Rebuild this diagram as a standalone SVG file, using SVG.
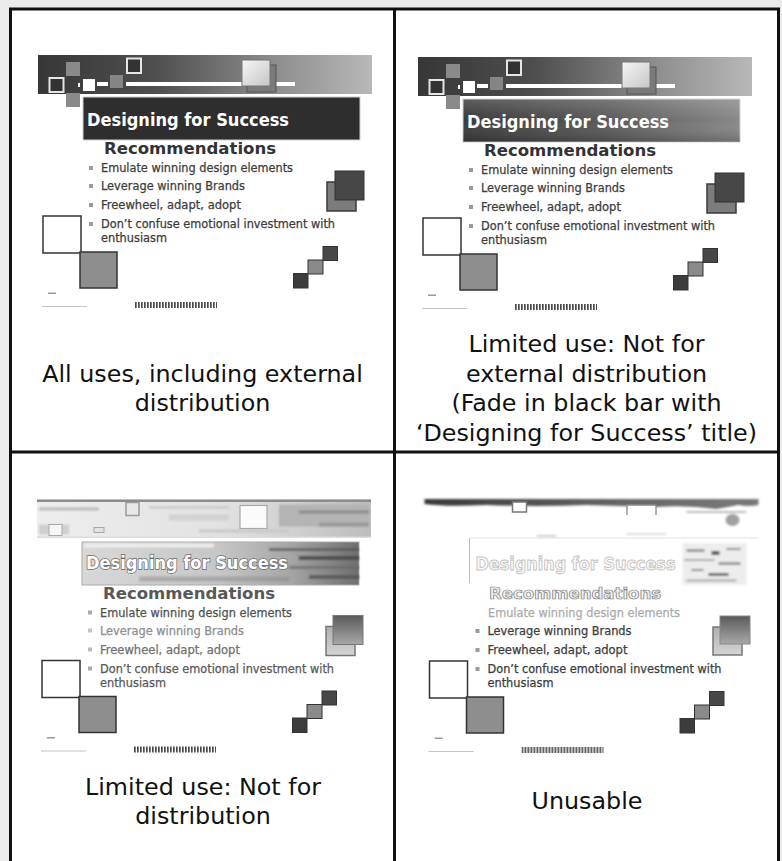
<svg xmlns="http://www.w3.org/2000/svg" xmlns:xlink="http://www.w3.org/1999/xlink" width="782" height="861" viewBox="0 0 782 861">
<style>
.cap{font-family:"DejaVu Sans",Verdana,sans-serif;font-size:23.8px;fill:#111;text-anchor:middle}
.ttl{font-family:"DejaVu Sans Condensed","DejaVu Sans",sans-serif;font-weight:bold;font-size:18px;fill:#fff}
.rec{font-family:"DejaVu Sans Condensed","DejaVu Sans",sans-serif;font-weight:bold;font-size:16px;fill:#333}
.bul{font-family:"DejaVu Sans Condensed","DejaVu Sans",sans-serif;font-size:12.5px;fill:#3c3c3c;stroke:#3c3c3c;stroke-width:.25}
.dot{fill:#9a9a9a}
.edge{stroke:#333;stroke-width:1.5}
.grid{fill:none;stroke:#111;stroke-width:3}
.soft{filter:url(#blur)}
</style>
<defs>
  <filter id="blur" x="-10%" y="-50%" width="120%" height="200%"><feGaussianBlur stdDeviation="1"/></filter>
  <linearGradient id="gBanner" x1="0" y1="0" x2="1" y2="0">
    <stop offset="0" stop-color="#373737"/><stop offset=".35" stop-color="#4e4e4e"/>
    <stop offset=".7" stop-color="#8c8c8c"/><stop offset="1" stop-color="#b8b8b8"/>
  </linearGradient>
  <linearGradient id="gPale" x1="0" y1="0" x2="1" y2="1">
    <stop offset="0" stop-color="#f6f6f6"/><stop offset="1" stop-color="#c6c6c6"/>
  </linearGradient>
  <linearGradient id="gFade" x1="0" y1="0" x2="1" y2="0">
    <stop offset="0" stop-color="#3a3a3a"/><stop offset=".5" stop-color="#585858"/><stop offset="1" stop-color="#888"/>
  </linearGradient>
  <linearGradient id="gFadeV" x1="0" y1="0" x2="0" y2="1">
    <stop offset="0" stop-color="#fff" stop-opacity=".18"/><stop offset=".5" stop-color="#fff" stop-opacity="0"/>
    <stop offset="1" stop-color="#000" stop-opacity=".2"/>
  </linearGradient>
  <linearGradient id="gWash" x1="0" y1="0" x2="1" y2="0">
    <stop offset="0" stop-color="#eeeeee"/><stop offset=".55" stop-color="#e2e2e2"/><stop offset="1" stop-color="#bdbdbd"/>
  </linearGradient>
  <linearGradient id="gWashTitle" x1="0" y1="0" x2="1" y2="0">
    <stop offset="0" stop-color="#d8d8d8"/><stop offset=".5" stop-color="#c6c6c6"/>
    <stop offset=".75" stop-color="#a6a6a6"/><stop offset="1" stop-color="#6e6e6e"/>
  </linearGradient>
  <linearGradient id="gTop" x1="0" y1="0" x2="1" y2="0">
    <stop offset="0" stop-color="#3a3a3a"/><stop offset=".6" stop-color="#666"/><stop offset="1" stop-color="#7a7a7a"/>
  </linearGradient>
  <linearGradient id="gDarkV" x1="0" y1="0" x2="0" y2="1">
    <stop offset="0" stop-color="#5a5a5a"/><stop offset="1" stop-color="#a8a8a8"/>
  </linearGradient>
  <linearGradient id="gLightV" x1="0" y1="0" x2="0" y2="1">
    <stop offset="0" stop-color="#b0b0b0"/><stop offset="1" stop-color="#d4d4d4"/>
  </linearGradient>
  <pattern id="pBar" width="3" height="6" patternUnits="userSpaceOnUse">
    <rect width="1.7" height="6" fill="#4a4a4a"/>
  </pattern>

  <!-- banner strip across the top of the slide -->
  <g id="banner">
    <rect x="38" y="55" width="334" height="39" fill="url(#gBanner)"/>
    <rect x="66" y="62" width="14" height="14" fill="#8a8a8a"/>
    <rect x="66" y="93" width="14" height="14" fill="#8a8a8a"/>
    <rect x="49.5" y="78" width="14" height="14" fill="#333" stroke="#e6e6e6" stroke-width="2"/>
    <rect x="83" y="79" width="12" height="12" fill="#fff"/>
    <rect x="78" y="83" width="2" height="4" fill="#fff"/>
    <rect x="97" y="82" width="11" height="4" fill="#fff"/>
    <rect x="110" y="75" width="13" height="13" fill="#858585"/>
    <rect x="126" y="82" width="169" height="4" fill="#fff"/>
    <rect x="127" y="58.5" width="14" height="14.5" fill="#333" stroke="#e6e6e6" stroke-width="2"/>
    <rect x="247" y="65" width="29" height="27" fill="#7a7a7a" stroke="#555"/>
    <rect x="242" y="60" width="28" height="26" fill="url(#gPale)" stroke="#777"/>
  </g>

  <!-- bullet list -->
  <g id="list">
    <rect class="dot" x="89" y="166" width="4" height="4"/>
    <rect class="dot" x="89" y="184" width="4" height="4"/>
    <rect class="dot" x="89" y="203" width="4" height="4"/>
    <rect class="dot" x="89" y="222" width="4" height="4"/>
    <text class="bul" x="101" y="172" textLength="192" lengthAdjust="spacingAndGlyphs">Emulate winning design elements</text>
    <text class="bul" x="101" y="190" textLength="144" lengthAdjust="spacingAndGlyphs">Leverage winning Brands</text>
    <text class="bul" x="101" y="209" textLength="140" lengthAdjust="spacingAndGlyphs">Freewheel, adapt, adopt</text>
    <text class="bul" x="101" y="228" textLength="234" lengthAdjust="spacingAndGlyphs">Don’t confuse emotional investment with</text>
    <text class="bul" x="101" y="242" textLength="66" lengthAdjust="spacingAndGlyphs">enthusiasm</text>
  </g>

  <!-- pair of squares on the right -->
  <g id="sideSq">
    <rect x="327" y="182" width="29" height="29" fill="#7c7c7c" stroke="#3a3a3a" stroke-width="1.5"/>
    <rect x="335" y="171" width="29" height="29" fill="#474747" stroke="#333"/>
  </g>

  <!-- lower decorations and footer -->
  <g id="decor">
    <rect x="43" y="216" width="38" height="37" fill="none" class="edge"/>
    <rect x="80" y="252" width="37" height="36" fill="#8e8e8e" class="edge"/>
    <rect x="293.5" y="273.5" width="14.5" height="14.5" fill="#3c3c3c" stroke="#333"/>
    <rect x="308" y="260" width="15" height="14" fill="#8a8a8a" stroke="#333"/>
    <rect x="323" y="246.5" width="14.5" height="14" fill="#474747" stroke="#333"/>
    <rect x="48" y="292.5" width="8" height="1.5" fill="#999"/>
    <rect x="42" y="306" width="45" height="1" fill="#c4c4c4"/>
    <rect x="135" y="302" width="82" height="6" fill="url(#pBar)"/>
  </g>
</defs>

<rect width="782" height="861" fill="#ebebeb"/>
<rect x="10.5" y="9" width="768" height="870" fill="#fff"/>

<!-- table rules -->
<g id="table">
  <rect class="grid" x="10.5" y="9" width="768" height="870"/>
  <line class="grid" x1="394.5" y1="9" x2="394.5" y2="861"/>
  <line class="grid" x1="10.5" y1="452" x2="778.5" y2="452"/>
</g>

<!-- top-left: clean slide -->
<g id="cell-all-uses">
  <use xlink:href="#banner"/>
  <rect x="83" y="97" width="277" height="43" fill="#2e2e2e" stroke="#cfcfcf"/>
  <text class="ttl" x="87" y="126" textLength="202" lengthAdjust="spacingAndGlyphs">Designing for Success</text>
  <text class="rec" x="104" y="154" textLength="172" lengthAdjust="spacingAndGlyphs">Recommendations</text>
  <use xlink:href="#list"/>
  <use xlink:href="#sideSq"/>
  <use xlink:href="#decor"/>
  <text class="cap" x="202.5" y="381.7">All uses, including external</text>
  <text class="cap" x="202.5" y="411.2">distribution</text>
</g>

<!-- top-right: faded title bar -->
<g id="cell-limited-external">
  <g transform="translate(380 2)">
    <use xlink:href="#banner"/>
    <rect x="83" y="97" width="277" height="43" fill="url(#gFade)" stroke="#cfcfcf"/>
    <rect x="83" y="97" width="277" height="43" fill="url(#gFadeV)"/>
    <text class="ttl" x="87" y="126" textLength="202" lengthAdjust="spacingAndGlyphs">Designing for Success</text>
    <text class="rec" x="104" y="154" textLength="172" lengthAdjust="spacingAndGlyphs">Recommendations</text>
    <use xlink:href="#list"/>
    <use xlink:href="#sideSq"/>
    <use xlink:href="#decor"/>
  </g>
  <text class="cap" x="586.5" y="352.2">Limited use: Not for</text>
  <text class="cap" x="586.5" y="381.7">external distribution</text>
  <text class="cap" x="586.5" y="411.2">(Fade in black bar with</text>
  <text class="cap" x="586.5" y="440.7">‘Designing for Success’ title)</text>
</g>

<!-- bottom-left: washed-out header -->
<g id="cell-limited-internal">
  <g transform="translate(-1 444.5)">
    <rect x="38" y="55" width="334" height="38" fill="url(#gWash)"/>
    <g class="soft">
      <rect x="40" y="63" width="60" height="3" fill="#bbb"/>
      <rect x="150" y="62" width="80" height="2" fill="#c4c4c4"/>
      <rect x="170" y="70" width="60" height="6" fill="#d2d2d2"/>
      <rect x="280" y="60" width="90" height="22" fill="#b4b4b4"/>
      <rect x="300" y="66" width="70" height="3" fill="#8a8a8a"/>
      <rect x="320" y="78" width="50" height="4" fill="#999"/>
      <rect x="40" y="80" width="30" height="10" fill="#cfcfcf"/>
      <rect x="200" y="85" width="90" height="3" fill="#c8c8c8"/>
    </g>
    <rect x="38" y="55" width="334" height="2.5" fill="#8c8c8c"/>
    <rect x="38" y="92" width="334" height="1.5" fill="#dcdcdc"/>
    <rect x="50" y="80" width="13" height="11" fill="#f6f6f6" stroke="#aaa"/>
    <rect x="95" y="83" width="10" height="5" fill="#e2e2e2" stroke="#999" stroke-width=".8"/>
    <rect x="127" y="58" width="13" height="13" fill="#e8e8e8" stroke="#9a9a9a" stroke-width="1.5"/>
    <rect x="241" y="61" width="27" height="23" fill="#fbfbfb" stroke="#aaa" stroke-width="1.2"/>
    <rect x="83" y="97.5" width="277" height="43" fill="url(#gWashTitle)" stroke="#aaa"/>
    <g class="soft">
      <rect x="85" y="99" width="130" height="4" fill="#eee"/>
      <rect x="270" y="104" width="90" height="2" fill="#555"/>
      <rect x="300" y="112" width="60" height="3" fill="#444"/>
      <rect x="290" y="122" width="70" height="2" fill="#666"/>
      <rect x="310" y="131" width="50" height="3" fill="#555"/>
      <rect x="140" y="132" width="150" height="5" fill="#888" opacity=".5"/>
    </g>
    <text class="ttl" x="87" y="124" textLength="202" lengthAdjust="spacingAndGlyphs" stroke="#6a6a6a" stroke-width="1.4" paint-order="stroke">Designing for Success</text>
    <text class="rec" x="104" y="154" textLength="172" lengthAdjust="spacingAndGlyphs" style="fill:#585858">Recommendations</text>
    <rect x="89" y="166" width="4" height="4" fill="#aaa"/>
    <rect x="89" y="184" width="4" height="4" fill="#c4c4c4"/>
    <rect x="89" y="203" width="4" height="4" fill="#bbb"/>
    <rect x="89" y="222" width="4" height="4" fill="#aaa"/>
    <text class="bul" x="101" y="172" textLength="192" lengthAdjust="spacingAndGlyphs" style="fill:#505050;stroke:#505050">Emulate winning design elements</text>
    <text class="bul" x="101" y="190" textLength="144" lengthAdjust="spacingAndGlyphs" style="fill:#8e8e8e;stroke:#8e8e8e">Leverage winning Brands</text>
    <text class="bul" x="101" y="209" textLength="140" lengthAdjust="spacingAndGlyphs" style="fill:#707070;stroke:#707070">Freewheel, adapt, adopt</text>
    <text class="bul" x="101" y="228" textLength="234" lengthAdjust="spacingAndGlyphs" style="fill:#585858;stroke:#585858">Don’t confuse emotional investment with</text>
    <text class="bul" x="101" y="242" textLength="66" lengthAdjust="spacingAndGlyphs" style="fill:#585858;stroke:#585858">enthusiasm</text>
    <rect x="327" y="182" width="29" height="29" fill="url(#gLightV)" stroke="#777" stroke-width="1.5"/>
    <rect x="334" y="171" width="30" height="29" fill="url(#gDarkV)" stroke="#777"/>
    <use xlink:href="#decor"/>
  </g>
  <text class="cap" x="203" y="795">Limited use: Not for</text>
  <text class="cap" x="203" y="824.3">distribution</text>
</g>

<!-- bottom-right: header almost lost -->
<g id="cell-unusable">
  <g transform="translate(386.5 445)">
    <path class="soft" d="M38 54H372V60Q362 62 352 60L330 64Q300 60 270 62L200 60Q150 62 100 60Q60 62 38 59Z" fill="url(#gTop)"/>
    <rect x="126" y="57" width="14" height="10" fill="#fff" stroke="#777" stroke-width="1.5"/>
    <path d="M240.5 70V60H269.5V70" fill="#fff" stroke="#888" stroke-width="1.3"/>
    <g class="soft">
      <ellipse cx="346" cy="75" rx="7" ry="6" fill="#a0a0a0"/>
      <rect x="300" y="66" width="60" height="2" fill="#bbb"/>
      <rect x="150" y="90" width="20" height="2" fill="#ccc"/>
      <rect x="240" y="88" width="40" height="2" fill="#ddd"/>
    </g>
    <line x1="83" y1="93" x2="83" y2="138" stroke="#bbb"/>
    <line x1="83" y1="93" x2="372" y2="93" stroke="#e2e2e2"/>
    <g class="soft">
      <rect x="296" y="98" width="64" height="42" fill="#ededed"/>
      <rect x="300" y="104" width="18" height="3" fill="#999"/>
      <rect x="325" y="106" width="8" height="4" fill="#555"/>
      <rect x="340" y="103" width="14" height="2" fill="#888"/>
      <rect x="298" y="114" width="30" height="2" fill="#aaa"/>
      <rect x="332" y="117" width="22" height="3" fill="#999"/>
      <rect x="305" y="124" width="12" height="2" fill="#888"/>
      <rect x="322" y="128" width="20" height="3" fill="#666"/>
      <rect x="300" y="134" width="50" height="3" fill="#bbb"/>
    </g>
    <text class="ttl" x="89" y="125" textLength="200" lengthAdjust="spacingAndGlyphs" style="fill:#fafafa" stroke="#c4c4c4" stroke-width=".9">Designing for Success</text>
    <text class="rec" x="102.5" y="154" textLength="172" lengthAdjust="spacingAndGlyphs" style="fill:#f0f0f0" stroke="#808080" stroke-width=".7">Recommendations</text>
    <text class="bul" x="101.5" y="171.7" textLength="192" lengthAdjust="spacingAndGlyphs" style="fill:#ababab;stroke:#ababab">Emulate winning design elements</text>
    <rect class="dot" x="89" y="184" width="4" height="4"/>
    <rect class="dot" x="89" y="203" width="4" height="4"/>
    <rect class="dot" x="89" y="222" width="4" height="4"/>
    <text class="bul" x="101" y="190" textLength="144" lengthAdjust="spacingAndGlyphs">Leverage winning Brands</text>
    <text class="bul" x="101" y="209" textLength="140" lengthAdjust="spacingAndGlyphs">Freewheel, adapt, adopt</text>
    <text class="bul" x="101" y="228" textLength="234" lengthAdjust="spacingAndGlyphs">Don’t confuse emotional investment with</text>
    <text class="bul" x="101" y="242" textLength="66" lengthAdjust="spacingAndGlyphs">enthusiasm</text>
    <rect x="326.5" y="182" width="29" height="28" fill="url(#gLightV)" stroke="#777" stroke-width="1.5"/>
    <rect x="333.5" y="171" width="30" height="28" fill="url(#gDarkV)" stroke="#888"/>
    <use xlink:href="#decor"/>
  </g>
  <text class="cap" x="587" y="809.3">Unusable</text>
</g>
</svg>
